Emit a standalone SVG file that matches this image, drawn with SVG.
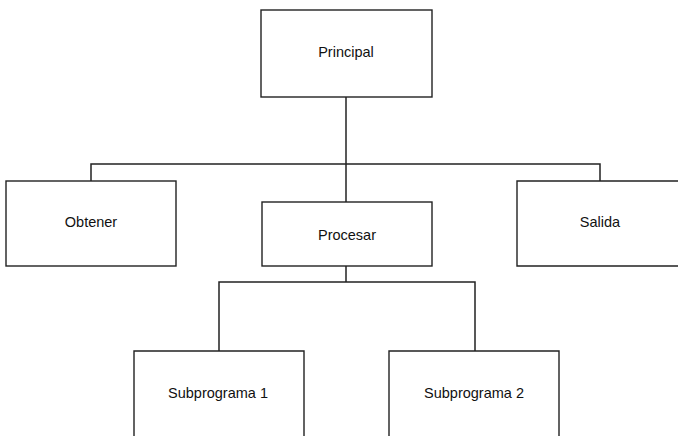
<svg xmlns="http://www.w3.org/2000/svg" width="678" height="436" viewBox="0 0 678 436">
  <style>
    .box { fill: #ffffff; stroke: #222222; stroke-width: 1.4; }
    .lbl { font-family: "Liberation Sans", Arial, sans-serif; font-size: 14.5px; fill: #111111; text-anchor: middle; }
    .wire { fill: none; stroke: #222222; stroke-width: 1.5; }
  </style>
  <rect width="678" height="436" fill="#ffffff"/>

  <!-- connectors -->
  <g id="connectors">
    <path class="wire" d="M346 97 V202"/>
    <path class="wire" d="M91 181 V164 H600 V181"/>
    <path class="wire" d="M346 266 V282"/>
    <path class="wire" d="M219 351 V282 H475 V351"/>
  </g>

  <g id="principal">
    <rect class="box" x="261" y="10" width="171" height="87"/>
    <text class="lbl" x="346" y="57">Principal</text>
  </g>

  <g id="obtener">
    <rect class="box" x="6" y="181" width="170" height="85"/>
    <text class="lbl" x="91" y="227">Obtener</text>
  </g>

  <g id="procesar">
    <rect class="box" x="262" y="202" width="170" height="64"/>
    <text class="lbl" x="347" y="240">Procesar</text>
  </g>

  <g id="salida">
    <path class="box" d="M680 181 H517 V266 H680"/>
    <text class="lbl" x="600" y="227">Salida</text>
  </g>

  <g id="subprograma1">
    <path class="box" d="M134 440 V351 H304 V440"/>
    <text class="lbl" x="218" y="398">Subprograma 1</text>
  </g>

  <g id="subprograma2">
    <path class="box" d="M389 440 V351 H559 V440"/>
    <text class="lbl" x="474" y="398">Subprograma 2</text>
  </g>
</svg>
